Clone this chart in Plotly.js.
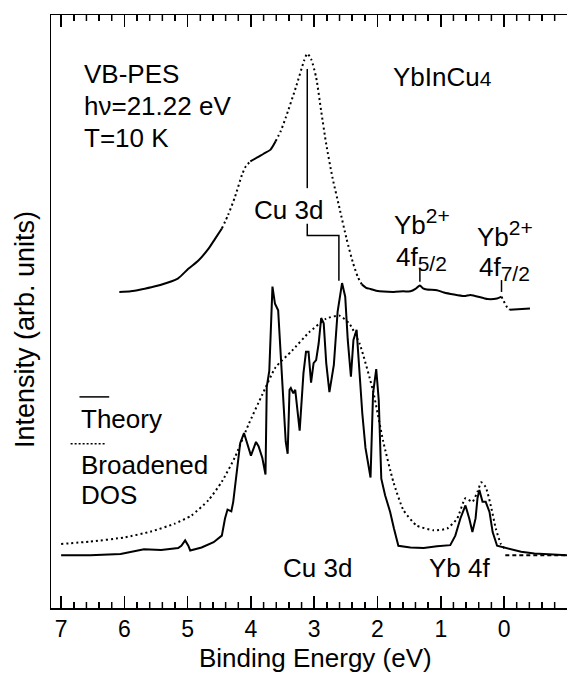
<!DOCTYPE html>
<html>
<head>
<meta charset="utf-8">
<script src="https://cdn.plot.ly/plotly-3.0.1.min.js"></script>
<style>
  html, body { margin: 0; padding: 0; background: #ffffff; }
  #chart { width: 567px; height: 674px; }
</style>
</head>
<body>
<div id="chart"></div>
<script>
// Valence-band photoemission spectrum (hν = 21.22 eV, T = 10 K)
const pesEnergy = [6.08, 5.90, 5.74, 5.53, 5.31, 5.15, 4.99, 4.83, 4.67, 4.57, 4.46, 4.36, 4.25, 4.14, 4.08,
  4.01, 3.90, 3.80, 3.69, 3.61, 3.53, 3.45, 3.29, 3.16, 3.11, 3.05, 2.97, 2.89, 2.81, 2.71, 2.60, 2.49, 2.39,
  2.31, 2.25, 2.18, 2.11, 2.02, 1.75, 1.59, 1.48, 1.40, 1.33, 1.28, 1.22, 1.06, 0.95, 0.63, 0.53, 0.26, 0.11,
  0.04, -0.05, -0.09, -0.41];
const pesIntensity = [53.3, 53.4, 53.7, 54.2, 54.9, 55.6, 57.2, 58.6, 60.6, 62.2, 64.0, 66.3, 69.4, 73.1, 74.5,
  75.3, 76.0, 76.6, 77.3, 78.7, 80.4, 82.7, 87.8, 92.3, 93.5, 92.6, 89.5, 83.8, 78.2, 72.5, 67.4, 62.3, 58.3,
  55.8, 54.6, 54.0, 53.8, 53.5, 53.3, 53.4, 53.4, 53.8, 54.4, 53.9, 53.7, 53.6, 53.2, 52.6, 52.8, 52.1, 52.2,
  52.5, 50.7, 50.3, 50.5];

// Calculated density of states
const theoryEnergy = [7.00, 6.54, 6.06, 5.79, 5.69, 5.42, 5.15, 5.10, 5.04, 4.99, 4.96, 4.78, 4.59, 4.46, 4.41,
  4.37, 4.31, 4.28, 4.22, 4.17, 4.11, 4.05, 4.00, 3.92, 3.88, 3.82, 3.77, 3.75, 3.71, 3.66, 3.62, 3.57, 3.53,
  3.48, 3.45, 3.42, 3.39, 3.37, 3.33, 3.30, 3.23, 3.17, 3.13, 3.09, 3.05, 3.01, 2.97, 2.93, 2.89, 2.85, 2.81,
  2.76, 2.69, 2.63, 2.56, 2.51, 2.47, 2.42, 2.38, 2.33, 2.31, 2.24, 2.19, 2.11, 2.07, 2.02, 1.98, 1.94, 1.88,
  1.80, 1.74, 1.67, 1.48, 1.27, 1.06, 0.85, 0.77, 0.69, 0.61, 0.55, 0.50, 0.45, 0.42, 0.39, 0.34, 0.29, 0.23,
  0.18, 0.11, -0.01, -0.27, -0.48, -1.00];
const theoryIntensity = [8.9, 8.9, 9.1, 9.7, 9.9, 9.8, 10.1, 10.5, 11.4, 10.5, 9.7, 10.2, 11.1, 12.2, 15.1,
  16.6, 16.3, 17.9, 23.0, 27.8, 29.5, 27.5, 25.7, 28.0, 27.3, 25.3, 22.5, 37.3, 40.0, 54.2, 51.3, 50.2, 43.0,
  33.0, 28.0, 26.0, 36.8, 37.1, 36.2, 36.8, 29.9, 39.6, 43.2, 43.2, 38.0, 41.3, 41.8, 44.6, 48.9, 48.0, 41.3,
  36.4, 41.0, 50.0, 54.8, 52.5, 45.2, 39.0, 45.2, 46.9, 43.5, 32.8, 27.0, 22.0, 36.2, 40.3, 35.0, 21.8, 19.0,
  16.2, 13.4, 10.5, 10.2, 10.1, 10.4, 10.6, 12.2, 15.1, 17.3, 15.1, 12.8, 15.1, 18.5, 19.9, 17.9, 17.9, 16.2,
  12.8, 10.5, 10.2, 9.5, 9.2, 8.9];

// Broadened DOS
const dosEnergy = [7.00, 6.54, 6.00, 5.58, 5.21, 4.94, 4.67, 4.46, 4.25, 4.04, 3.82, 3.61, 3.35, 3.08, 2.81,
  2.60, 2.44, 2.28, 2.07, 1.91, 1.75, 1.59, 1.38, 1.11, 0.90, 0.74, 0.61, 0.50, 0.42, 0.36, 0.29, 0.21, 0.13,
  0.05, -0.02];
const dosIntensity = [10.8, 11.2, 11.9, 12.9, 14.2, 15.6, 18.2, 21.3, 25.5, 30.9, 36.0, 40.6, 43.4, 46.5, 48.8,
  49.3, 47.9, 44.5, 36.6, 28.1, 21.3, 16.5, 13.9, 13.1, 13.4, 15.1, 18.5, 17.9, 19.6, 21.2, 20.4, 17.3, 13.4,
  10.8, 9.9];
// flat tail of the broadened DOS above the Fermi level
const dosTailEnergy = [-0.02, -1.00];
const dosTailIntensity = [8.9, 8.9];

const FONT = 'Liberation Sans, Arial, Helvetica, sans-serif';
const INK = '#000000';
const DOTS = '2px,3px';
const X_RANGE = [7.16, -0.995];
const Y_RANGE = [0, 100];
const MINOR_STEP = 0.2;
const PLOT_HEIGHT_PX = 674 - 15 - 66;
const MINOR_LEN = 6 * (Y_RANGE[1] - Y_RANGE[0]) / PLOT_HEIGHT_PX; // 6 px in intensity units

// The measured spectrum is drawn dotted where it is steep and solid where flat
const pesSegments = [
  { from: 6.08, to: 4.46, dash: 'solid' },
  { from: 4.46, to: 4.01, dash: DOTS },
  { from: 4.01, to: 3.61, dash: 'solid' },
  { from: 3.61, to: 2.25, dash: DOTS },
  { from: 2.25, to: 0.04, dash: 'solid' },
  { from: 0.04, to: -0.09, dash: DOTS },
  { from: -0.09, to: -0.41, dash: 'solid' }
];

const traces = pesSegments.map(seg => {
  const x = [], y = [];
  pesEnergy.forEach((e, i) => {
    if (e <= seg.from + 1e-9 && e >= seg.to - 1e-9) { x.push(e); y.push(pesIntensity[i]); }
  });
  return { type: 'scatter', mode: 'lines', x, y, hoverinfo: 'skip', showlegend: false,
           line: { color: INK, width: 2, dash: seg.dash, shape: 'spline', smoothing: 0.6 } };
});

traces.push({ type: 'scatter', mode: 'lines', x: dosEnergy, y: dosIntensity, hoverinfo: 'skip',
  showlegend: false, line: { color: INK, width: 2, dash: DOTS, shape: 'spline', smoothing: 0.5 } });
traces.push({ type: 'scatter', mode: 'lines', x: dosTailEnergy, y: dosTailIntensity, hoverinfo: 'skip',
  showlegend: false, line: { color: INK, width: 2, dash: '4px,3px' } });
traces.push({ type: 'scatter', mode: 'lines', x: theoryEnergy, y: theoryIntensity, hoverinfo: 'skip',
  showlegend: false, line: { color: INK, width: 2 } });

// Minor 0.2 eV ticks on the bottom and top frame, pointing inward
const minorX = [], minorY = [];
for (let k = Math.ceil(X_RANGE[1] / MINOR_STEP); k <= Math.floor(X_RANGE[0] / MINOR_STEP); k++) {
  if (k % 5 === 0) continue; // whole-eV positions carry the major ticks
  const v = Math.round(k * MINOR_STEP * 10) / 10;
  minorX.push(v, v, null, v, v, null);
  minorY.push(Y_RANGE[0], Y_RANGE[0] + MINOR_LEN, null, Y_RANGE[1], Y_RANGE[1] - MINOR_LEN, null);
}
traces.push({ type: 'scatter', mode: 'lines', x: minorX, y: minorY, connectgaps: false,
  hoverinfo: 'skip', showlegend: false, line: { color: INK, width: 1.5 } });

// Energy of the main Cu 3d maximum in the measured spectrum
const pesPeakE = pesEnergy[pesIntensity.indexOf(Math.max(...pesIntensity))];

function label(text, x, y, opts) {
  return Object.assign({ text, x, y, xref: 'x', yref: 'y', showarrow: false,
    xanchor: 'center', yanchor: 'middle', font: { family: FONT, size: 26, color: INK } }, opts || {});
}
const small = t => '<span style="font-size:21px">' + t + '</span>';

const annotations = [
  label('VB-PES', 6.67, 90.1, { xanchor: 'left' }),
  label('h\u03bd=21.22 eV', 6.67, 84.7, { xanchor: 'left' }),
  label('T=10 K', 6.67, 79.3, { xanchor: 'left' }),
  label('YbInCu' + small('4'), 1.78, 89.6, { xanchor: 'left' }),
  label('Cu 3d', 3.41, 67.1),
  label('Yb<sup>' + small('2+') + '</sup>', 1.29, 65.1),
  label('4f<sub>' + small('5/2') + '</sub>', 1.31, 59.0),
  label('Yb<sup>' + small('2+') + '</sup>', -0.02, 63.1),
  label('4f<sub>' + small('7/2') + '</sub>', -0.01, 57.2),
  label('Theory', 6.72, 31.8, { xanchor: 'left' }),
  label('Broadened', 6.72, 24.1, { xanchor: 'left' }),
  label('DOS', 6.72, 19.0, { xanchor: 'left' }),
  label('Cu 3d', 2.95, 6.8),
  label('Yb 4f', 0.70, 6.8),
  { text: 'Binding Energy (eV)', xref: 'paper', yref: 'paper', x: 0.512, y: -0.0843,
    xanchor: 'center', yanchor: 'middle', showarrow: false,
    font: { family: FONT, size: 26, color: INK } },
  { text: 'Intensity (arb. units)', xref: 'paper', yref: 'paper', x: -0.0504, y: 0.4705,
    xanchor: 'center', yanchor: 'middle', showarrow: false, textangle: -90,
    font: { family: FONT, size: 27, color: INK } }
];

const guide = { color: INK, width: 1.5 };
const shapes = [
  // legend keys
  { type: 'line', xref: 'x', yref: 'y', x0: 6.71, x1: 6.24, y0: 35.6, y1: 35.6, line: guide },
  { type: 'line', xref: 'x', yref: 'y', x0: 6.85, x1: 6.29, y0: 27.7, y1: 27.7,
    line: { color: INK, width: 1.5, dash: '2px,2px' } },
  // Cu 3d marker and bracket to the calculated peak
  { type: 'line', xref: 'x', yref: 'y', x0: pesPeakE, x1: pesPeakE, y0: 90.9, y1: 70.8, line: guide },
  { type: 'path', xref: 'x', yref: 'y', line: guide,
    path: `M ${pesPeakE} 64.8 L ${pesPeakE} 62.8 L 2.61 62.8 L 2.61 55.2` },
  // Yb2+ 4f markers
  { type: 'line', xref: 'x', yref: 'y', x0: 1.33, x1: 1.33, y0: 57.3, y1: 55.0, line: guide },
  { type: 'line', xref: 'x', yref: 'y', x0: 0.04, x1: 0.04, y0: 55.3, y1: 53.3, line: guide }
];

const layout = {
  width: 567, height: 674,
  margin: { l: 51, r: 0, t: 15, b: 66, pad: 0 },
  paper_bgcolor: '#ffffff', plot_bgcolor: '#ffffff',
  font: { family: FONT, size: 26, color: INK },
  showlegend: false,
  xaxis: {
    range: X_RANGE, showgrid: false, zeroline: false,
    showline: true, linecolor: INK, linewidth: 1.5, mirror: 'ticks',
    tickmode: 'linear', tick0: 0, dtick: 1,
    ticks: 'inside', ticklen: 12, tickwidth: 1.5, tickcolor: INK,
    tickfont: { family: FONT, size: 23, color: INK },
    minor: { tickmode: 'linear', tick0: 0, dtick: MINOR_STEP, ticks: 'inside', ticklen: 6,
             tickwidth: 1.5, tickcolor: INK, showgrid: false }
  },
  yaxis: {
    range: Y_RANGE, showgrid: false, zeroline: false, showticklabels: false, ticks: '',
    showline: true, linecolor: INK, linewidth: 1.5, mirror: false
  },
  annotations, shapes
};

Plotly.newPlot('chart', traces, layout, { staticPlot: true, displayModeBar: false });
</script>
</body>
</html>
